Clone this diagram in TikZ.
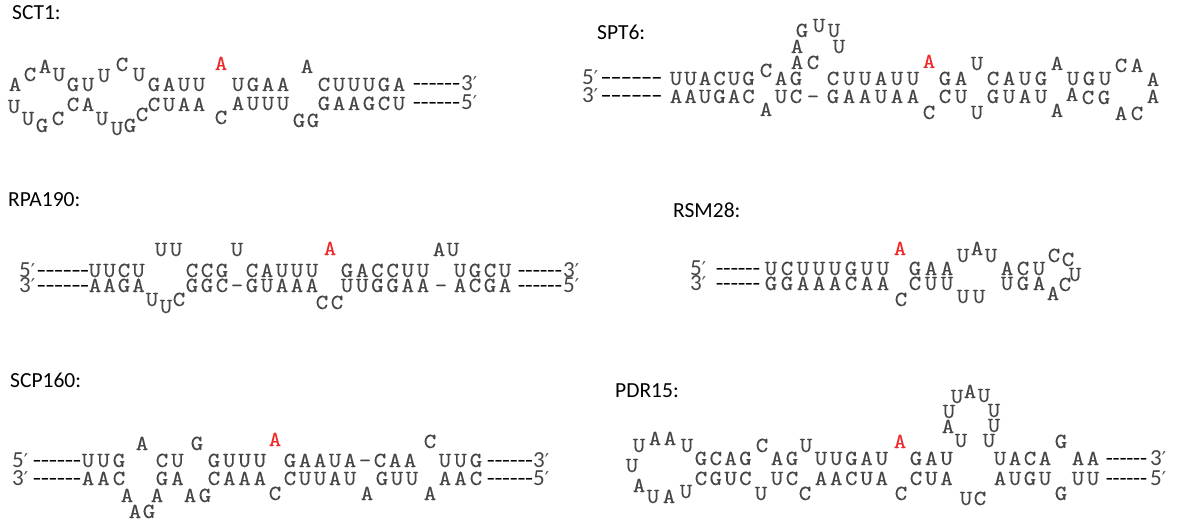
\documentclass[tikz,border=0pt]{standalone}
\usepackage{fontspec}
\usepackage{graphicx}
\setmainfont{Carlito}
\newfontfamily\primefont{DejaVu Sans}
\newfontfamily\seqfont{lmmono10-regular.otf}[FakeBold=0.25]
\definecolor{seqgray}{RGB}{70,70,70}
\definecolor{hitred}{RGB}{240,40,40}

\tikzset{
  nt/.style={anchor=base, inner sep=0pt, outer sep=0pt, text=seqgray,
             font=\fontsize{21.5}{21.5}\seqfont},
  ntred/.style={nt, text=hitred},
  endlab/.style={anchor=base west, inner sep=0pt, text=seqgray,
             font=\fontsize{23}{23}\selectfont},
  hyph/.style={anchor=base, inner sep=0pt, text=black,
             font=\fontsize{22}{22}\selectfont},
  title/.style={anchor=base west, inner sep=0pt, text=black,
             font=\fontsize{21.5}{21.5}\selectfont},
}

% one nucleotide, slightly widened mono glyph
\newcommand\sq[1]{\scalebox{1.1}[1]{#1}}
% single nucleotide at (x centre, baseline)
\newcommand\nt[3]{\node[nt] at (#1,#2) {\sq{#3}};}
\newcommand\ntr[3]{\node[ntred] at (#1,#2) {\sq{#3}};}
% a run of nucleotides: first x, pitch, baseline, letters
\newcommand\run[4]{\foreach \c [count=\i from 0] in {#4} {\node[nt] at ({#1+\i*#2},#3) {\sq{\c}};}}
% six hyphens spread between x1 and x2 on a baseline, each about 3/4 of its cell
\newcommand\dsh[3]{%
  \pgfmathsetmacro\dsc{0.74*(#2-#1)/6/4.8}%
  \foreach \k in {0,...,5} {\node[hyph] at ({#1+(\k+0.5)*(#2-#1)/6},#3) {\scalebox{\dsc}[1]{-}};}}
% strand end label such as 5' or 3'
\newcommand\pr[1]{#1{\primefont\fontsize{19}{19}\selectfont ′}}

\begin{document}
\begin{tikzpicture}[x=1pt,y=-1pt]
\fill[white] (0,0) rectangle (1185,529);
\path[use as bounding box] (0,0) rectangle (1185,529);

% ---------------- SCT1 ----------------
\node[title] (tSCT1) at (12,20) {SCT1:};
% upper strand
\nt{15}{91}{A}\nt{30}{81}{C}\nt{45}{73}{A}\nt{59}{81}{U}\nt{73}{91}{G}\nt{88}{91}{U}
\nt{104}{82}{U}\nt{122}{71}{C}\nt{139}{81}{U}
\run{154}{15}{91}{G,A,U,U}
\ntr{221}{70}{A}
\run{238}{15}{91}{U,G,A,A}
\nt{307}{73}{A}
\run{324}{15}{91}{C,U,U,U,G,A}
\dsh{413}{460}{91}
\node[endlab] (eSCT1a) at (461,91) {\pr{3}};
% lower strand
\nt{14}{113}{U}\nt{28}{125}{U}\nt{42}{132}{G}\nt{58}{125}{C}\nt{73}{111}{C}\nt{88}{111}{A}
\nt{102}{125}{U}\nt{117}{135}{U}\nt{130}{132}{G}\nt{142}{121}{C}
\run{154}{15}{111}{C,U,A,A}
\nt{221}{124}{C}
\run{238}{15}{110}{A,U,U,U}
\nt{299}{127}{G}\nt{313}{127}{G}
\run{324}{15}{110}{G,A,A,G,C,U}
\dsh{413}{460}{110}
\node[endlab] (eSCT1b) at (461,110) {\pr{5}};

% ---------------- SPT6 ----------------
\node[title] (tSPT6) at (597,40) {SPT6:};
\node[endlab] (sSPT6a) at (582,85) {\pr{5}};
\dsh{601}{662}{85}
\run{676}{14.5}{85}{U,U,A,C,U,G}
\nt{766}{77}{C}
\run{781}{15}{85}{A,G}
\nt{797}{69}{A}\nt{813}{69}{C}
\nt{797}{53}{A}\nt{839}{53}{U}
\nt{802}{37}{G}\nt{819}{32}{U}\nt{834}{37}{U}
\run{833}{16}{85}{C,U,U,A,U,U}
\ntr{929}{68}{A}
\run{945}{16}{85}{G,A}
\nt{977}{70}{U}
\run{993}{16}{85}{C,A,U,G}
\nt{1057}{70}{A}
\run{1073}{16}{85}{U,G,U}
\nt{1121}{72}{C}\nt{1137}{72}{A}
\nt{1153}{86}{A}
% lower strand
\node[endlab] (sSPT6b) at (582,103) {\pr{3}};
\dsh{601}{662}{103}
\run{676}{14.5}{103}{A,A,U,G,A,C}
\nt{766}{116}{A}
\run{781}{15}{103}{U,C}
\nt{813}{103}{–}
\run{833}{16}{103}{G,A,A,U,A,A}
\nt{929}{119}{C}
\run{945}{16}{103}{C,U}
\nt{977}{119}{U}
\run{993}{16}{103}{G,U,A,U}
\nt{1057}{117}{A}
\nt{1072}{101}{A}\nt{1088}{104}{C}\nt{1104}{104}{G}
\nt{1121}{120}{A}\nt{1137}{120}{C}
\nt{1153}{103}{A}

% ---------------- RPA190 ----------------
\node[title] (tRPA190) at (8,207) {RPA190:};
\node[endlab] (sRPA190a) at (19,277) {\pr{5}};
\dsh{37}{89}{277}
\run{95}{14.5}{277}{U,U,C,U}
\nt{161}{256}{U}\nt{176}{256}{U}
\run{192}{15}{277}{C,C,G}
\nt{237}{256}{U}
\run{252}{15}{277}{C,A,U,U,U}
\ntr{330}{255}{A}
\run{347}{15.2}{277}{G,A,C,C,U,U}
\nt{439}{256}{A}\nt{453}{256}{U}
\run{460}{15}{277}{U,G,C,U}
\dsh{518}{562}{277}
\node[endlab] (eRPA190a) at (563,277) {\pr{3}};
% lower strand
\node[endlab] (sRPA190b) at (19,292) {\pr{3}};
\dsh{37}{89}{292}
\run{95}{14.5}{292}{A,A,G,A}
\nt{152}{306}{U}\nt{166}{313}{U}\nt{179}{306}{C}
\run{192}{15}{292}{G,G,C,–,G,U,A,A,A}
\nt{322}{309}{C}\nt{337}{309}{C}
\run{347}{15.2}{292}{U,U,G,G,A,A}
\nt{441}{292}{–}
\run{460}{15}{292}{A,C,G,A}
\dsh{518}{562}{292}
\node[endlab] (eRPA190b) at (563,292) {\pr{5}};

% ---------------- RSM28 ----------------
\node[title] (tRSM28) at (673,218) {RSM28:};
\node[endlab] (sRSM28a) at (690,275) {\pr{5}};
\dsh{716}{760}{275}
\run{771}{16}{275}{U,C,U,U,U,G,U,U}
\ntr{900}{255}{A}
\run{915}{16}{275}{G,A,A}
\nt{963}{262}{U}\nt{977}{255}{A}\nt{991}{262}{U}
\run{1007}{16}{275}{A,C,U}
\nt{1054}{262}{C}\nt{1068}{266}{C}\nt{1075}{281}{U}
% lower strand
\node[endlab] (sRSM28b) at (690,290) {\pr{3}};
\dsh{716}{760}{290}
\run{771}{16}{290}{G,G,A,A,A,C,A,A}
\nt{901}{306}{C}
\run{915}{16}{290}{C,U,U}
\nt{963}{303}{U}\nt{979}{303}{U}
\run{1007}{16}{290}{U,G,A}
\nt{1053}{300}{A}\nt{1065}{291}{C}

% ---------------- SCP160 ----------------
\node[title] (tSCP160) at (10,387) {SCP160:};
\node[endlab] (sSCP160a) at (12,467) {\pr{5}};
\dsh{33}{81}{467}
\run{88}{15.5}{467}{U,U,G}
\nt{142}{450}{A}
\run{162}{15.5}{467}{C,U}
\nt{197}{450}{G}
\run{214}{15.3}{467}{G,U,U,U}
\ntr{275}{446}{A}
\run{290}{15}{467}{G,A,A,U,A,–,C,A,A}
\nt{430}{448}{C}
\run{445}{15.5}{467}{U,U,G}
\dsh{487}{533}{467}
\node[endlab] (eSCP160a) at (533,467) {\pr{3}};
% lower strand
\node[endlab] (sSCP160b) at (12,485) {\pr{3}};
\dsh{33}{81}{485}
\run{88}{15.5}{485}{A,A,C}
\nt{127}{502}{A}\nt{135}{518}{A}\nt{149}{518}{G}\nt{157}{502}{A}
\run{162}{15.5}{485}{G,A}
\nt{190}{502}{A}\nt{205}{502}{G}
\run{214}{15.3}{485}{C,A,A,A}
\nt{275}{500}{C}
\run{290}{15}{485}{C,U,U,A,U}
\nt{367}{500}{A}
\run{382}{15}{485}{G,U,U}
\nt{430}{500}{A}
\run{445}{15.5}{485}{A,A,C}
\dsh{487}{533}{485}
\node[endlab] (eSCP160b) at (533,485) {\pr{5}};

% ---------------- PDR15 ----------------
\node[title] (tPDR15) at (615,397) {PDR15:};
% left loop and upper strand
\nt{639}{452}{U}\nt{655}{445}{A}\nt{670}{445}{A}\nt{687}{452}{U}
\run{701}{14.8}{465}{G,C,A,G}
\nt{762}{452}{C}
\run{777}{15}{465}{A,G}
\nt{806}{452}{U}
\run{821}{15.2}{465}{U,U,G,A,U}
\ntr{900}{448}{A}
\run{916}{15.3}{465}{G,A,U}
% upper hairpin
\nt{961}{447}{U}\nt{948}{433}{A}\nt{949}{418}{U}\nt{957}{403}{U}\nt{970}{398}{A}
\nt{984}{402}{U}\nt{994}{417}{U}\nt{994}{432}{U}\nt{989}{447}{U}
\run{1000}{15}{465}{U,A,C,A}
\nt{1061}{448}{G}
\run{1078}{15}{465}{A,A}
\dsh{1106}{1147}{465}
\node[endlab] (ePDR15a) at (1150,465) {\pr{3}};
% lower strand
\nt{632}{472}{U}\nt{639}{492}{A}\nt{653}{503}{U}\nt{669}{503}{A}\nt{686}{498}{U}
\run{701}{14.8}{485}{C,G,U,C}
\nt{761}{500}{U}
\run{777}{15}{485}{U,C}
\nt{805}{500}{C}
\run{821}{15.2}{485}{A,A,C,U,A}
\nt{901}{500}{C}
\run{916}{15.3}{485}{C,U,A}
\nt{966}{505}{U}\nt{980}{505}{C}
\run{1000}{15}{485}{A,U,G,U}
\nt{1061}{500}{G}
\run{1078}{15}{485}{U,U}
\dsh{1106}{1147}{485}
\node[endlab] (ePDR15b) at (1150,485) {\pr{5}};
\end{tikzpicture}
\end{document}
